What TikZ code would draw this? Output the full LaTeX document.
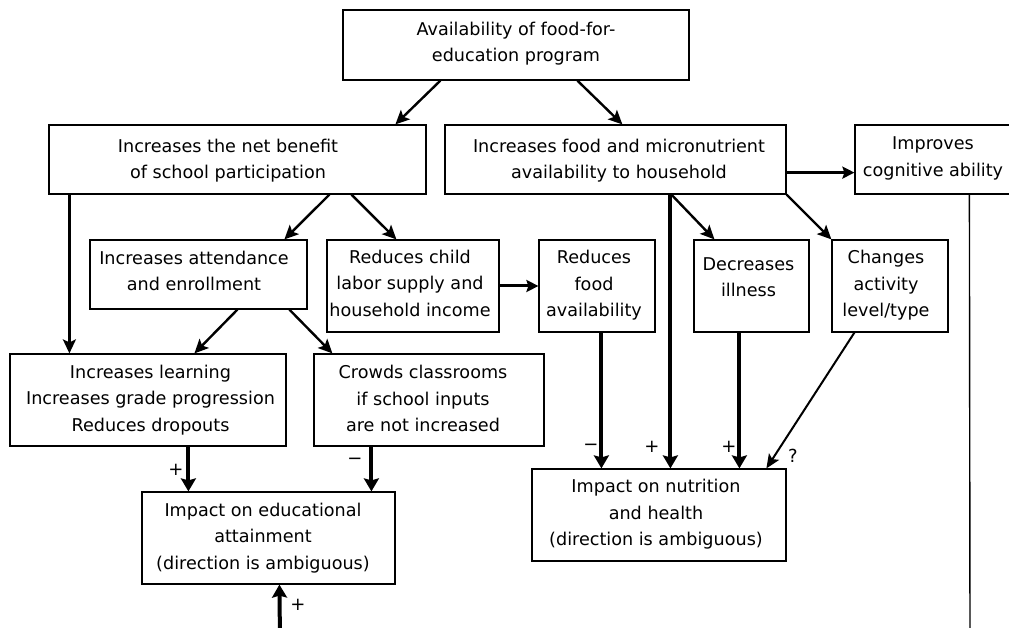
\documentclass[tikz,border=0pt]{standalone}
\usepackage{fontspec}
\setmainfont{DejaVu Sans}
\usetikzlibrary{arrows.meta}
\begin{document}
\begin{tikzpicture}[x=1pt,y=-1pt,
  box/.style={draw, line width=1.2pt, inner sep=0pt},
  txt/.style={align=center, inner sep=0pt, font=\fontsize{17.6}{26.5}\selectfont,
    execute at begin node=\strut, execute at end node=\strut},
  sgn/.style={inner sep=0pt, font=\fontsize{18}{20}\selectfont},
  diag/.style={line width=2.4pt, -{Stealth[length=14pt,width=13pt,inset=3pt]}},
  heavy/.style={line width=4pt, -{Stealth[length=13pt,width=15pt,inset=2pt]}},
  thin/.style={line width=2pt, -{Stealth[length=14pt,width=12pt,inset=3pt]}},
  plain/.style={line width=1.4pt}
]
\useasboundingbox (0,0) rectangle (1009,628);

% boxes
\node[box, minimum width=346pt, minimum height=70pt] (A) at (516,45) {};
\node[txt] (At) at (516,45.7) {Availability of food-for-\\education program};

\node[box, minimum width=377pt, minimum height=69pt] (B) at (237.5,159.5) {};
\node[txt] (Bt) at (228,162.6) {Increases the net benefit\\of school participation};

\node[box, minimum width=341pt, minimum height=69pt] (C) at (615.5,159.5) {};
\node[txt] (Ct) at (619,162.6) {Increases food and micronutrient\\availability to household};

\node[box, minimum width=157pt, minimum height=69pt] (D) at (933.5,159.5) {};
\node[txt] (Dt) at (933,160.6) {Improves\\cognitive ability};

\node[box, minimum width=217pt, minimum height=69pt] (E) at (198.5,274.5) {};
\node[txt] (Et) at (194,274.6) {Increases attendance\\and enrollment};

\node[box, minimum width=172pt, minimum height=92pt] (F) at (413,286) {};
\node[txt] (Ft) at (410,287) {Reduces child\\labor supply and\\household income};

\node[box, minimum width=116pt, minimum height=92pt] (G) at (597,286) {};
\node[txt] (Gt) at (594,287.6) {Reduces\\food\\availability};

\node[box, minimum width=115pt, minimum height=92pt] (H) at (751.5,286) {};
\node[txt] (Ht) at (748.5,281) {Decreases\\illness};

\node[box, minimum width=116pt, minimum height=92pt] (I) at (890,286) {};
\node[txt] (It) at (886,287.6) {Changes\\activity\\level/type};

\node[box, minimum width=276pt, minimum height=92pt] (J) at (148,400) {};
\node[txt] (Jt) at (150.5,402) {Increases learning\\Increases grade progression\\Reduces dropouts};

\node[box, minimum width=230pt, minimum height=92pt] (K) at (429,400) {};
\node[txt] (Kt) at (423,402.6) {Crowds classrooms\\if school inputs\\are not increased};

\node[box, minimum width=253pt, minimum height=92pt] (L) at (268.5,538) {};
\node[txt] (Lt) at (263,540) {Impact on educational\\attainment\\(direction is ambiguous)};

\node[box, minimum width=254pt, minimum height=92pt] (M) at (659,515) {};
\node[txt] (Mt) at (656,516.6) {Impact on nutrition\\and health\\(direction is ambiguous)};

% free ends
\coordinate (botL) at (280,640);
\coordinate (botD) at (970,640);

% connectors
\draw[diag] ([xshift=98pt]A.south west) -- ([xshift=347pt]B.north west);
\draw[diag] ([xshift=235pt]A.south west) -- ([xshift=178pt]C.north west);
\draw[diag] ([xshift=21pt]B.south west) -- ([xshift=60pt]J.north west);
\draw[diag] ([xshift=281pt]B.south west) -- ([xshift=195pt]E.north west);
\draw[diag] ([xshift=303pt]B.south west) -- ([xshift=70pt]F.north west);
\draw[line width=3pt, -{Stealth[length=12pt,width=12pt,inset=2pt]}] (F.east) -- (G.west);
\draw[line width=3pt, -{Stealth[length=12pt,width=12pt,inset=2pt]}] ([yshift=22pt]C.south east) -- ([yshift=22pt]D.south west);
\draw[diag] ([xshift=148pt]E.south west) -- ([xshift=185pt]J.north west);
\draw[diag] ([xshift=200pt]E.south west) -- ([xshift=19pt]K.north west);
\draw[heavy] ([xshift=179pt]J.south west) -- ([xshift=47pt]L.north west);
\draw[heavy] ([xshift=58pt]K.south west) -- ([xshift=230pt]L.north west);
\draw[heavy] ([xshift=226pt]C.south west) -- ([xshift=139pt]M.north west);
\draw[diag] ([xshift=227pt]C.south west) -- ([xshift=21pt]H.north west);
\draw[diag] (C.south east) -- (I.north west);
\draw[heavy] ([xshift=63pt]G.south west) -- ([xshift=70pt]M.north west);
\draw[heavy] ([xshift=46pt]H.south west) -- ([xshift=208pt]M.north west);
\draw[thin] ([xshift=23pt]I.south west) -- ([xshift=235pt]M.north west);
\draw[heavy] (botL) -- ([xshift=138pt]L.south west);
\draw[plain] ([xshift=115pt]D.south west) -- (botD);

% signs
\node[sgn] (p1) at (176,470) {+};
\node[sgn] (m1) at (355,461) {−};
\node[sgn] (p2) at (298,605) {+};
\node[sgn] (m2) at (591,447) {−};
\node[sgn] (p3) at (652,447) {+};
\node[sgn] (p4) at (729,447) {+};
\node[sgn] (q1) at (793,456) {?};
\end{tikzpicture}
\end{document}
